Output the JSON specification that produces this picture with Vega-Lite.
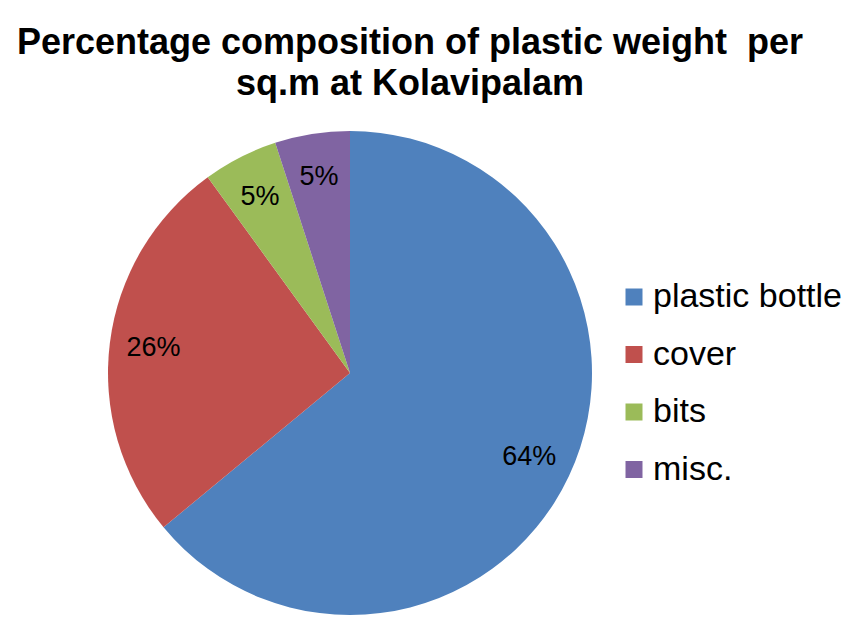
{
  "$schema": "https://vega.github.io/schema/vega-lite/v6.json",
  "autosize": {"type": "none"},
  "width": 484,
  "height": 484,
  "padding": {"left": 108, "top": 131, "right": 258, "bottom": 6},
  "background": "white",
  "config": {"view": {"stroke": null}},
  "title": {
    "text": ["Percentage composition of plastic weight \u00a0per", "sq.m at Kolavipalam"],
    "font": "Liberation Sans",
    "fontSize": 36,
    "fontWeight": "bold",
    "color": "#000000",
    "lineHeight": 41,
    "anchor": "middle",
    "frame": "group",
    "dx": 60,
    "offset": 28
  },
  "data": {
    "values": [
      {"category": "plastic bottle", "value": 64, "label": "64%", "rank": 1},
      {"category": "cover", "value": 26, "label": "26%", "rank": 2},
      {"category": "bits", "value": 5, "label": "5%", "rank": 3},
      {"category": "misc.", "value": 5, "label": "5%", "rank": 4}
    ]
  },
  "encoding": {
    "theta": {"field": "value", "type": "quantitative", "stack": true},
    "order": {"field": "rank", "type": "quantitative"}
  },
  "layer": [
    {
      "mark": {"type": "arc", "stroke": null},
      "encoding": {
        "color": {
          "field": "category",
          "type": "nominal",
          "sort": ["plastic bottle", "cover", "bits", "misc."],
          "scale": {
            "domain": ["plastic bottle", "cover", "bits", "misc."],
            "range": ["#4F81BD", "#C0504D", "#9BBB59", "#8064A2"]
          },
          "legend": {
            "title": null,
            "orient": "none",
            "legendX": 509,
            "legendY": 149,
            "symbolType": "square",
            "symbolSize": 289,
            "symbolStrokeWidth": 0,
            "labelFont": "Liberation Sans",
            "labelFontSize": 34,
            "labelColor": "#000000",
            "labelLimit": 300,
            "labelOffset": 2,
            "rowPadding": 23.5
          }
        }
      }
    },
    {
      "mark": {"type": "text", "radius": 198, "font": "Liberation Sans", "fontSize": 27, "color": "#000000"},
      "encoding": {
        "text": {"field": "label", "type": "nominal"}
      }
    }
  ]
}
